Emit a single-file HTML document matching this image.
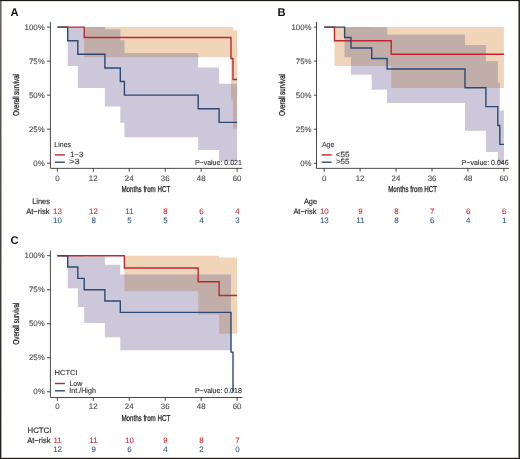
<!DOCTYPE html>
<html><head><meta charset="utf-8"><style>
html,body{margin:0;padding:0;background:#fff;}
body{width:520px;height:459px;overflow:hidden;position:relative;}
svg{position:absolute;left:0;top:0;will-change:transform;text-rendering:geometricPrecision;font-family:"Liberation Sans", sans-serif;}
</style></head><body>
<svg width="520" height="459" viewBox="0 0 520 459">
<defs><clipPath id="clipA"><path d="M84.19 27.1L231 27.1L231 27.1L233.01 27.1L233.01 30.27L237.11 30.27L237.11 128.62L233.01 128.62L233.01 99.42L231 99.42L231 57.28L84.19 57.28Z"/></clipPath>
<clipPath id="clipB"><path d="M334.49 27.1L391.2 27.1L391.2 27.1L503.91 27.1L503.91 88.06L391.2 88.06L391.2 66.02L334.49 66.02Z"/></clipPath>
<clipPath id="clipC"><path d="M124.4 255.7L198.19 255.7L198.19 255.7L219.1 255.7L219.1 257.45L237.11 257.45L237.11 333.68L219.1 333.68L219.1 314.5L198.19 314.5L198.19 291.19L124.4 291.19Z"/></clipPath></defs>
<rect x="0" y="0" width="520" height="459" fill="#fff"/>
<g><text x="10.62" y="15.55" font-size="11.2" fill="#111" font-weight="bold">A</text>
<path d="M84.19 27.1L231 27.1L231 27.1L233.01 27.1L233.01 30.27L237.11 30.27L237.11 128.62L233.01 128.62L233.01 99.42L231 99.42L231 57.28L84.19 57.28Z" fill="#f1d5b9"/>
<path d="M67.69 27.1L77.81 27.1L77.81 27.1L104.9 27.1L104.9 29.27L120.3 29.27L120.3 40.21L124.4 40.21L124.4 52.97L198.19 52.97L198.19 67.43L219.1 67.43L219.1 83.71L237.11 83.71L237.11 161.03L219.1 161.03L219.1 150.09L198.19 150.09L198.19 137.33L124.4 137.33L124.4 122.87L120.3 122.87L120.3 106.59L104.9 106.59L104.9 88.06L77.81 88.06L77.81 66.02L67.69 66.02Z" fill="#cdc8d9"/>
<path d="M67.69 27.1L77.81 27.1L77.81 27.1L104.9 27.1L104.9 29.27L120.3 29.27L120.3 40.21L124.4 40.21L124.4 52.97L198.19 52.97L198.19 67.43L219.1 67.43L219.1 83.71L237.11 83.71L237.11 161.03L219.1 161.03L219.1 150.09L198.19 150.09L198.19 137.33L124.4 137.33L124.4 122.87L120.3 122.87L120.3 106.59L104.9 106.59L104.9 88.06L77.81 88.06L77.81 66.02L67.69 66.02Z" fill="#c1aea9" clip-path="url(#clipA)"/>
<path d="M57.35 27.1H84.19V37.57H231V58.51H233.01V79.45H237.11" fill="none" stroke="#bd2830" stroke-width="1.4"/>
<path d="M57.35 27.1H67.69V40.71H77.81V54.32H104.9V67.93H120.3V81.54H124.4V95.15H198.19V108.76H219.1V122.37H237.11" fill="none" stroke="#2e4876" stroke-width="1.4"/>
<path d="M50.4 21.9V168.35H242.4" fill="none" stroke="#333333" stroke-width="0.9"/>
<path d="M47 27.1H50.4" stroke="#333333" stroke-width="0.9"/>
<text x="24.59" y="29.75" font-size="7.88" fill="#4d4d4d" stroke="#4d4d4d" stroke-width="0.12">100%</text>
<path d="M47 61.12H50.4" stroke="#333333" stroke-width="0.9"/>
<text x="28.97" y="63.77" font-size="7.88" fill="#4d4d4d" stroke="#4d4d4d" stroke-width="0.12">75%</text>
<path d="M47 95.15H50.4" stroke="#333333" stroke-width="0.9"/>
<text x="28.97" y="97.8" font-size="7.88" fill="#4d4d4d" stroke="#4d4d4d" stroke-width="0.12">50%</text>
<path d="M47 129.17H50.4" stroke="#333333" stroke-width="0.9"/>
<text x="28.97" y="131.82" font-size="7.88" fill="#4d4d4d" stroke="#4d4d4d" stroke-width="0.12">25%</text>
<path d="M47 163.2H50.4" stroke="#333333" stroke-width="0.9"/>
<text x="33.36" y="165.85" font-size="7.88" fill="#4d4d4d" stroke="#4d4d4d" stroke-width="0.12">0%</text>
<path d="M57.35 168.35V171.7" stroke="#333333" stroke-width="0.9"/>
<text x="55.15" y="180.6" font-size="7.88" fill="#4d4d4d" stroke="#4d4d4d" stroke-width="0.12">0</text>
<path d="M93.3 168.35V171.7" stroke="#333333" stroke-width="0.9"/>
<text x="88.83" y="180.6" font-size="7.88" fill="#4d4d4d" stroke="#4d4d4d" stroke-width="0.12">12</text>
<path d="M129.25 168.35V171.7" stroke="#333333" stroke-width="0.9"/>
<text x="124.79" y="180.6" font-size="7.88" fill="#4d4d4d" stroke="#4d4d4d" stroke-width="0.12">24</text>
<path d="M165.21 168.35V171.7" stroke="#333333" stroke-width="0.9"/>
<text x="160.85" y="180.6" font-size="7.88" fill="#4d4d4d" stroke="#4d4d4d" stroke-width="0.12">36</text>
<path d="M201.16 168.35V171.7" stroke="#333333" stroke-width="0.9"/>
<text x="196.86" y="180.6" font-size="7.88" fill="#4d4d4d" stroke="#4d4d4d" stroke-width="0.12">48</text>
<path d="M237.11 168.35V171.7" stroke="#333333" stroke-width="0.9"/>
<text x="232.69" y="180.6" font-size="7.88" fill="#4d4d4d" stroke="#4d4d4d" stroke-width="0.12">60</text>
<text x="121.39" y="192.25" font-size="8.6" fill="#1a1a1a" textLength="48.85" lengthAdjust="spacingAndGlyphs" stroke="#1a1a1a" stroke-width="0.25">Months from HCT</text>
<g transform="translate(18.6 95) rotate(-90)"><text x="-20.79" y="0" font-size="8.6" fill="#1a1a1a" textLength="41.7" lengthAdjust="spacingAndGlyphs" stroke="#1a1a1a" stroke-width="0.25">Overall survival</text></g>
<text x="54.32" y="146.8" font-size="7.3" fill="#333" stroke="#333" stroke-width="0.12" textLength="16.73" lengthAdjust="spacingAndGlyphs">Lines</text>
<path d="M54.9 154.9H64.9" stroke="#bd2830" stroke-width="1.4"/>
<path d="M54.9 162.2H64.9" stroke="#2e4876" stroke-width="1.4"/>
<text x="69.9" y="157.3" font-size="7.5" fill="#333" stroke="#333" stroke-width="0.12" textLength="13.55" lengthAdjust="spacingAndGlyphs">1−3</text>
<text x="69.04" y="164.4" font-size="7.5" fill="#333" stroke="#333" stroke-width="0.12" textLength="10.56" lengthAdjust="spacingAndGlyphs">&gt;3</text>
<text x="194.92" y="164.8" font-size="7.3" fill="#333" stroke="#333" stroke-width="0.12" textLength="46.91" lengthAdjust="spacingAndGlyphs">P−value: 0.021</text>
<text x="32.29" y="204" font-size="7.86" fill="#2a2a2a" stroke="#2a2a2a" stroke-width="0.15" textLength="17.57" lengthAdjust="spacingAndGlyphs">Lines</text>
<text x="26.13" y="213.9" font-size="7.86" fill="#2a2a2a" stroke="#2a2a2a" stroke-width="0.15" textLength="23.46" lengthAdjust="spacingAndGlyphs">At−risk</text>
<text x="53.11" y="213.7" font-size="7.95" fill="#c8313a" stroke="#c8313a" stroke-width="0.1">13</text>
<text x="53.09" y="222.5" font-size="7.95" fill="#3a5a8c" stroke="#3a5a8c" stroke-width="0.1">10</text>
<text x="89.09" y="213.7" font-size="7.95" fill="#c8313a" stroke="#c8313a" stroke-width="0.1">12</text>
<text x="91.4" y="222.5" font-size="7.95" fill="#3a5a8c" stroke="#3a5a8c" stroke-width="0.1">8</text>
<text x="125.32" y="213.7" font-size="7.95" fill="#c8313a" stroke="#c8313a" stroke-width="0.1">11</text>
<text x="127.35" y="222.5" font-size="7.95" fill="#3a5a8c" stroke="#3a5a8c" stroke-width="0.1">5</text>
<text x="163.3" y="213.7" font-size="7.95" fill="#c8313a" stroke="#c8313a" stroke-width="0.1">8</text>
<text x="163.3" y="222.5" font-size="7.95" fill="#3a5a8c" stroke="#3a5a8c" stroke-width="0.1">5</text>
<text x="199.22" y="213.7" font-size="7.95" fill="#c8313a" stroke="#c8313a" stroke-width="0.1">6</text>
<text x="199.27" y="222.5" font-size="7.95" fill="#3a5a8c" stroke="#3a5a8c" stroke-width="0.1">4</text>
<text x="235.22" y="213.7" font-size="7.95" fill="#c8313a" stroke="#c8313a" stroke-width="0.1">4</text>
<text x="235.22" y="222.5" font-size="7.95" fill="#3a5a8c" stroke="#3a5a8c" stroke-width="0.1">3</text></g>
<g><text x="277.54" y="15.6" font-size="11.2" fill="#111" font-weight="bold">B</text>
<path d="M334.49 27.1L391.2 27.1L391.2 27.1L503.91 27.1L503.91 88.06L391.2 88.06L391.2 66.02L334.49 66.02Z" fill="#f1d5b9"/>
<path d="M344.61 27.1L350.99 27.1L350.99 27.1L371.7 27.1L371.7 27.34L387.1 27.34L387.1 34.83L464.99 34.83L464.99 44.95L485.9 44.95L485.9 61.31L497.8 61.31L497.8 82.81L499.81 82.81L499.81 110.62L503.91 110.62L503.91 163.2L499.81 163.2L499.81 163.2L497.8 163.2L497.8 152.02L485.9 152.02L485.9 130.69L464.99 130.69L464.99 103.12L387.1 103.12L387.1 89.68L371.7 89.68L371.7 74.73L350.99 74.73L350.99 57.28L344.61 57.28Z" fill="#cdc8d9"/>
<path d="M344.61 27.1L350.99 27.1L350.99 27.1L371.7 27.1L371.7 27.34L387.1 27.34L387.1 34.83L464.99 34.83L464.99 44.95L485.9 44.95L485.9 61.31L497.8 61.31L497.8 82.81L499.81 82.81L499.81 110.62L503.91 110.62L503.91 163.2L499.81 163.2L499.81 163.2L497.8 163.2L497.8 152.02L485.9 152.02L485.9 130.69L464.99 130.69L464.99 103.12L387.1 103.12L387.1 89.68L371.7 89.68L371.7 74.73L350.99 74.73L350.99 57.28L344.61 57.28Z" fill="#c1aea9" clip-path="url(#clipB)"/>
<path d="M324.15 27.1H334.49V40.71H391.2V54.32H503.91" fill="none" stroke="#bd2830" stroke-width="1.4"/>
<path d="M324.15 27.1H344.61V37.57H350.99V48.04H371.7V58.51H387.1V68.98H464.99V87.82H485.9V106.67H497.8V125.51H499.81V144.36H503.91" fill="none" stroke="#2e4876" stroke-width="1.4"/>
<path d="M316.5 21.9V168.35H509.2" fill="none" stroke="#333333" stroke-width="0.9"/>
<path d="M313.8 27.1H316.5" stroke="#333333" stroke-width="0.9"/>
<text x="291.39" y="29.75" font-size="7.88" fill="#4d4d4d" stroke="#4d4d4d" stroke-width="0.12">100%</text>
<path d="M313.8 61.12H316.5" stroke="#333333" stroke-width="0.9"/>
<text x="295.77" y="63.77" font-size="7.88" fill="#4d4d4d" stroke="#4d4d4d" stroke-width="0.12">75%</text>
<path d="M313.8 95.15H316.5" stroke="#333333" stroke-width="0.9"/>
<text x="295.77" y="97.8" font-size="7.88" fill="#4d4d4d" stroke="#4d4d4d" stroke-width="0.12">50%</text>
<path d="M313.8 129.17H316.5" stroke="#333333" stroke-width="0.9"/>
<text x="295.77" y="131.82" font-size="7.88" fill="#4d4d4d" stroke="#4d4d4d" stroke-width="0.12">25%</text>
<path d="M313.8 163.2H316.5" stroke="#333333" stroke-width="0.9"/>
<text x="300.16" y="165.85" font-size="7.88" fill="#4d4d4d" stroke="#4d4d4d" stroke-width="0.12">0%</text>
<path d="M324.15 168.35V171.7" stroke="#333333" stroke-width="0.9"/>
<text x="321.95" y="180.6" font-size="7.88" fill="#4d4d4d" stroke="#4d4d4d" stroke-width="0.12">0</text>
<path d="M360.1 168.35V171.7" stroke="#333333" stroke-width="0.9"/>
<text x="355.63" y="180.6" font-size="7.88" fill="#4d4d4d" stroke="#4d4d4d" stroke-width="0.12">12</text>
<path d="M396.05 168.35V171.7" stroke="#333333" stroke-width="0.9"/>
<text x="391.59" y="180.6" font-size="7.88" fill="#4d4d4d" stroke="#4d4d4d" stroke-width="0.12">24</text>
<path d="M432.01 168.35V171.7" stroke="#333333" stroke-width="0.9"/>
<text x="427.65" y="180.6" font-size="7.88" fill="#4d4d4d" stroke="#4d4d4d" stroke-width="0.12">36</text>
<path d="M467.96 168.35V171.7" stroke="#333333" stroke-width="0.9"/>
<text x="463.66" y="180.6" font-size="7.88" fill="#4d4d4d" stroke="#4d4d4d" stroke-width="0.12">48</text>
<path d="M503.91 168.35V171.7" stroke="#333333" stroke-width="0.9"/>
<text x="499.49" y="180.6" font-size="7.88" fill="#4d4d4d" stroke="#4d4d4d" stroke-width="0.12">60</text>
<text x="388.19" y="192.25" font-size="8.6" fill="#1a1a1a" textLength="48.85" lengthAdjust="spacingAndGlyphs" stroke="#1a1a1a" stroke-width="0.25">Months from HCT</text>
<g transform="translate(285.4 95) rotate(-90)"><text x="-20.79" y="0" font-size="8.6" fill="#1a1a1a" textLength="41.7" lengthAdjust="spacingAndGlyphs" stroke="#1a1a1a" stroke-width="0.25">Overall survival</text></g>
<text x="321.88" y="146.8" font-size="7.3" fill="#333" stroke="#333" stroke-width="0.12" textLength="12.43" lengthAdjust="spacingAndGlyphs">Age</text>
<path d="M321.7 154.9H331.7" stroke="#bd2830" stroke-width="1.4"/>
<path d="M321.7 162.2H331.7" stroke="#2e4876" stroke-width="1.4"/>
<text x="335.69" y="157.3" font-size="7.5" fill="#333" stroke="#333" stroke-width="0.12" textLength="13.85" lengthAdjust="spacingAndGlyphs">&lt;55</text>
<text x="335.9" y="164.4" font-size="7.5" fill="#333" stroke="#333" stroke-width="0.12" textLength="13.63" lengthAdjust="spacingAndGlyphs">&gt;55</text>
<text x="461.72" y="164.8" font-size="7.3" fill="#333" stroke="#333" stroke-width="0.12" textLength="46.87" lengthAdjust="spacingAndGlyphs">P−value: 0.046</text>
<text x="303.88" y="204" font-size="7.86" fill="#2a2a2a" stroke="#2a2a2a" stroke-width="0.15" textLength="13.15" lengthAdjust="spacingAndGlyphs">Age</text>
<text x="293.38" y="213.9" font-size="7.86" fill="#2a2a2a" stroke="#2a2a2a" stroke-width="0.15" textLength="23.11" lengthAdjust="spacingAndGlyphs">At−risk</text>
<text x="319.89" y="213.7" font-size="7.95" fill="#c8313a" stroke="#c8313a" stroke-width="0.1">10</text>
<text x="319.91" y="222.5" font-size="7.95" fill="#3a5a8c" stroke="#3a5a8c" stroke-width="0.1">13</text>
<text x="358.19" y="213.7" font-size="7.95" fill="#c8313a" stroke="#c8313a" stroke-width="0.1">9</text>
<text x="356.17" y="222.5" font-size="7.95" fill="#3a5a8c" stroke="#3a5a8c" stroke-width="0.1">11</text>
<text x="394.15" y="213.7" font-size="7.95" fill="#c8313a" stroke="#c8313a" stroke-width="0.1">8</text>
<text x="394.15" y="222.5" font-size="7.95" fill="#3a5a8c" stroke="#3a5a8c" stroke-width="0.1">8</text>
<text x="430.09" y="213.7" font-size="7.95" fill="#c8313a" stroke="#c8313a" stroke-width="0.1">7</text>
<text x="430.07" y="222.5" font-size="7.95" fill="#3a5a8c" stroke="#3a5a8c" stroke-width="0.1">6</text>
<text x="466.02" y="213.7" font-size="7.95" fill="#c8313a" stroke="#c8313a" stroke-width="0.1">6</text>
<text x="466.07" y="222.5" font-size="7.95" fill="#3a5a8c" stroke="#3a5a8c" stroke-width="0.1">4</text>
<text x="501.97" y="213.7" font-size="7.95" fill="#c8313a" stroke="#c8313a" stroke-width="0.1">6</text>
<text x="501.89" y="222.5" font-size="7.95" fill="#3a5a8c" stroke="#3a5a8c" stroke-width="0.1">1</text></g>
<g><text x="10.61" y="243.8" font-size="11.2" fill="#111" font-weight="bold">C</text>
<path d="M124.4 255.7L198.19 255.7L198.19 255.7L219.1 255.7L219.1 257.45L237.11 257.45L237.11 333.68L219.1 333.68L219.1 314.5L198.19 314.5L198.19 291.19L124.4 291.19Z" fill="#f1d5b9"/>
<path d="M67.69 255.7L77.81 255.7L77.81 255.7L84.19 255.7L84.19 256.38L104.9 256.38L104.9 264.77L120.3 264.77L120.3 274.44L231 274.44L231 350.37L120.3 350.37L120.3 337.37L104.9 337.37L104.9 323.07L84.19 323.07L84.19 307.08L77.81 307.08L77.81 288.32L67.69 288.32Z" fill="#cdc8d9"/>
<path d="M67.69 255.7L77.81 255.7L77.81 255.7L84.19 255.7L84.19 256.38L104.9 256.38L104.9 264.77L120.3 264.77L120.3 274.44L231 274.44L231 350.37L120.3 350.37L120.3 337.37L104.9 337.37L104.9 323.07L84.19 323.07L84.19 307.08L77.81 307.08L77.81 288.32L67.69 288.32Z" fill="#c1aea9" clip-path="url(#clipC)"/>
<path d="M57.35 255.7H124.4V268.07H198.19V281.82H219.1V295.57H237.11" fill="none" stroke="#bd2830" stroke-width="1.4"/>
<path d="M57.35 255.7H67.69V267.04H77.81V278.38H84.19V289.73H104.9V301.07H120.3V312.41H231V352.1H233.01V391.8" fill="none" stroke="#2e4876" stroke-width="1.4"/>
<path d="M50.4 250.5V397.5H242.4" fill="none" stroke="#333333" stroke-width="0.9"/>
<path d="M47 255.7H50.4" stroke="#333333" stroke-width="0.9"/>
<text x="24.59" y="258.35" font-size="7.88" fill="#4d4d4d" stroke="#4d4d4d" stroke-width="0.12">100%</text>
<path d="M47 289.73H50.4" stroke="#333333" stroke-width="0.9"/>
<text x="28.97" y="292.38" font-size="7.88" fill="#4d4d4d" stroke="#4d4d4d" stroke-width="0.12">75%</text>
<path d="M47 323.75H50.4" stroke="#333333" stroke-width="0.9"/>
<text x="28.97" y="326.4" font-size="7.88" fill="#4d4d4d" stroke="#4d4d4d" stroke-width="0.12">50%</text>
<path d="M47 357.77H50.4" stroke="#333333" stroke-width="0.9"/>
<text x="28.97" y="360.42" font-size="7.88" fill="#4d4d4d" stroke="#4d4d4d" stroke-width="0.12">25%</text>
<path d="M47 391.8H50.4" stroke="#333333" stroke-width="0.9"/>
<text x="33.36" y="394.45" font-size="7.88" fill="#4d4d4d" stroke="#4d4d4d" stroke-width="0.12">0%</text>
<path d="M57.35 397.5V400.85" stroke="#333333" stroke-width="0.9"/>
<text x="55.15" y="409.2" font-size="7.88" fill="#4d4d4d" stroke="#4d4d4d" stroke-width="0.12">0</text>
<path d="M93.3 397.5V400.85" stroke="#333333" stroke-width="0.9"/>
<text x="88.83" y="409.2" font-size="7.88" fill="#4d4d4d" stroke="#4d4d4d" stroke-width="0.12">12</text>
<path d="M129.25 397.5V400.85" stroke="#333333" stroke-width="0.9"/>
<text x="124.79" y="409.2" font-size="7.88" fill="#4d4d4d" stroke="#4d4d4d" stroke-width="0.12">24</text>
<path d="M165.21 397.5V400.85" stroke="#333333" stroke-width="0.9"/>
<text x="160.85" y="409.2" font-size="7.88" fill="#4d4d4d" stroke="#4d4d4d" stroke-width="0.12">36</text>
<path d="M201.16 397.5V400.85" stroke="#333333" stroke-width="0.9"/>
<text x="196.86" y="409.2" font-size="7.88" fill="#4d4d4d" stroke="#4d4d4d" stroke-width="0.12">48</text>
<path d="M237.11 397.5V400.85" stroke="#333333" stroke-width="0.9"/>
<text x="232.69" y="409.2" font-size="7.88" fill="#4d4d4d" stroke="#4d4d4d" stroke-width="0.12">60</text>
<text x="121.39" y="420.85" font-size="8.6" fill="#1a1a1a" textLength="48.85" lengthAdjust="spacingAndGlyphs" stroke="#1a1a1a" stroke-width="0.25">Months from HCT</text>
<g transform="translate(18.6 323.6) rotate(-90)"><text x="-20.79" y="0" font-size="8.6" fill="#1a1a1a" textLength="41.7" lengthAdjust="spacingAndGlyphs" stroke="#1a1a1a" stroke-width="0.25">Overall survival</text></g>
<text x="54.58" y="375.4" font-size="7.3" fill="#333" stroke="#333" stroke-width="0.12" textLength="23.02" lengthAdjust="spacingAndGlyphs">HCTCI</text>
<path d="M54.9 383.5H64.9" stroke="#bd2830" stroke-width="1.4"/>
<path d="M54.9 390.8H64.9" stroke="#2e4876" stroke-width="1.4"/>
<text x="69.41" y="385.9" font-size="7.5" fill="#333" stroke="#333" stroke-width="0.12" textLength="13.07" lengthAdjust="spacingAndGlyphs">Low</text>
<text x="69.34" y="393" font-size="7.5" fill="#333" stroke="#333" stroke-width="0.12" textLength="26.53" lengthAdjust="spacingAndGlyphs">Int./High</text>
<text x="194.92" y="393.4" font-size="7.3" fill="#333" stroke="#333" stroke-width="0.12" textLength="46.87" lengthAdjust="spacingAndGlyphs">P−value: 0.018</text>
<text x="27.56" y="433.2" font-size="7.86" fill="#2a2a2a" stroke="#2a2a2a" stroke-width="0.15" textLength="23.82" lengthAdjust="spacingAndGlyphs">HCTCI</text>
<text x="27.18" y="443.1" font-size="7.86" fill="#2a2a2a" stroke="#2a2a2a" stroke-width="0.15" textLength="23.46" lengthAdjust="spacingAndGlyphs">At−risk</text>
<text x="53.42" y="442.9" font-size="7.95" fill="#c8313a" stroke="#c8313a" stroke-width="0.1">11</text>
<text x="53.14" y="451.7" font-size="7.95" fill="#3a5a8c" stroke="#3a5a8c" stroke-width="0.1">12</text>
<text x="89.37" y="442.9" font-size="7.95" fill="#c8313a" stroke="#c8313a" stroke-width="0.1">11</text>
<text x="91.39" y="451.7" font-size="7.95" fill="#3a5a8c" stroke="#3a5a8c" stroke-width="0.1">9</text>
<text x="124.99" y="442.9" font-size="7.95" fill="#c8313a" stroke="#c8313a" stroke-width="0.1">10</text>
<text x="127.32" y="451.7" font-size="7.95" fill="#3a5a8c" stroke="#3a5a8c" stroke-width="0.1">6</text>
<text x="163.29" y="442.9" font-size="7.95" fill="#c8313a" stroke="#c8313a" stroke-width="0.1">9</text>
<text x="163.32" y="451.7" font-size="7.95" fill="#3a5a8c" stroke="#3a5a8c" stroke-width="0.1">4</text>
<text x="199.25" y="442.9" font-size="7.95" fill="#c8313a" stroke="#c8313a" stroke-width="0.1">8</text>
<text x="199.25" y="451.7" font-size="7.95" fill="#3a5a8c" stroke="#3a5a8c" stroke-width="0.1">2</text>
<text x="235.19" y="442.9" font-size="7.95" fill="#c8313a" stroke="#c8313a" stroke-width="0.1">7</text>
<text x="235.19" y="451.7" font-size="7.95" fill="#3a5a8c" stroke="#3a5a8c" stroke-width="0.1">0</text></g>
<linearGradient id="lg" x1="0" y1="0" x2="0" y2="1"><stop offset="0" stop-color="#6a6560"/><stop offset="1" stop-color="#221e1a"/></linearGradient>
<rect x="0" y="0" width="1" height="459" fill="url(#lg)"/>
<rect x="1" y="0" width="1" height="459" fill="#9a958f" opacity="0.85"/>
<rect x="519" y="0" width="1" height="459" fill="#2e2a26"/>
<rect x="518" y="0" width="1" height="459" fill="#8a8580"/>
<rect x="0" y="0" width="520" height="1" fill="#1c1814"/>
<rect x="0" y="458" width="520" height="1" fill="#1c1814"/>
<rect x="2" y="457" width="516" height="1" fill="#d8d4d0"/>
<rect x="2" y="1" width="516" height="1" fill="#e4e0dc"/>
</svg>
</body></html>
